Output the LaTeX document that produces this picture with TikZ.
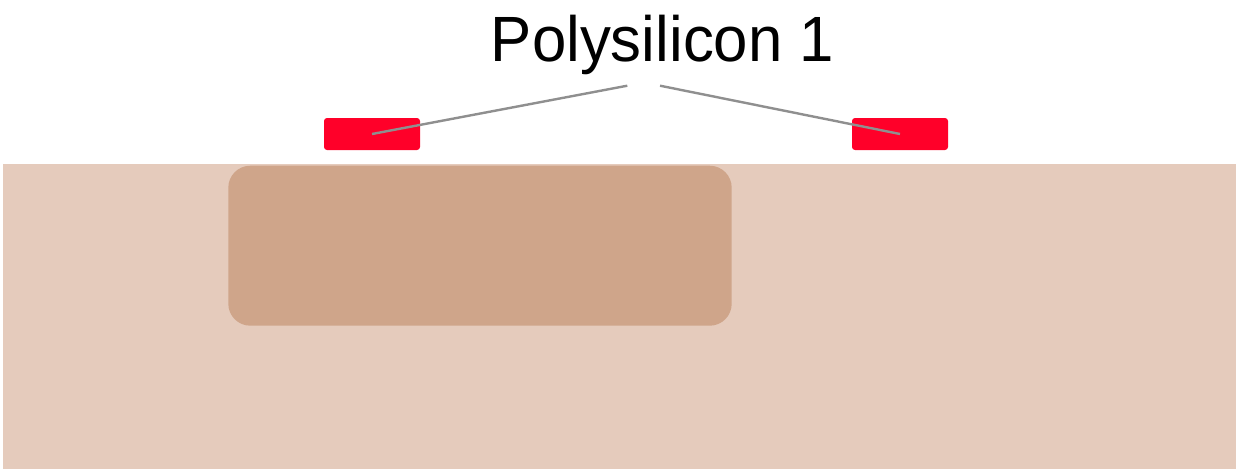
\documentclass[tikz,border=0pt]{standalone}
\usepackage{fontspec}
\setmainfont{Liberation Sans}
\definecolor{substrate}{HTML}{E5CBBC}
\definecolor{well}{HTML}{CFA58A}
\definecolor{poly}{HTML}{FF0029}
\definecolor{leader}{HTML}{8F8F8F}
\begin{document}
\begin{tikzpicture}[x=1pt,y=-1pt,
  gate/.style={fill=poly,rounded corners=3pt,inner sep=0pt,minimum width=96pt,minimum height=32pt},
  leaderline/.style={draw=leader,line width=2.4pt}]
\useasboundingbox (0,0) rectangle (1236,469);
% substrate and well
\fill[substrate] (2.7,164.3) rectangle (1236,469);
\fill[well,rounded corners=22pt] (228.3,165.7) rectangle (731.7,325.7);
% polysilicon gates
\node[gate] (g1) at (372,134) {};
\node[gate] (g2) at (900,134) {};
% label
\node[anchor=base,inner sep=0pt] (lbl) at (662.5,61.7)
  {\scalebox{0.965}[1]{\fontsize{64}{72}\selectfont Polysilicon 1}};
\coordinate (s1) at (627.3,85.7);
\coordinate (s2) at (660,85.7);
\draw[leaderline] (s1) -- (g1.center);
\draw[leaderline] (s2) -- (g2.center);
\end{tikzpicture}
\end{document}
